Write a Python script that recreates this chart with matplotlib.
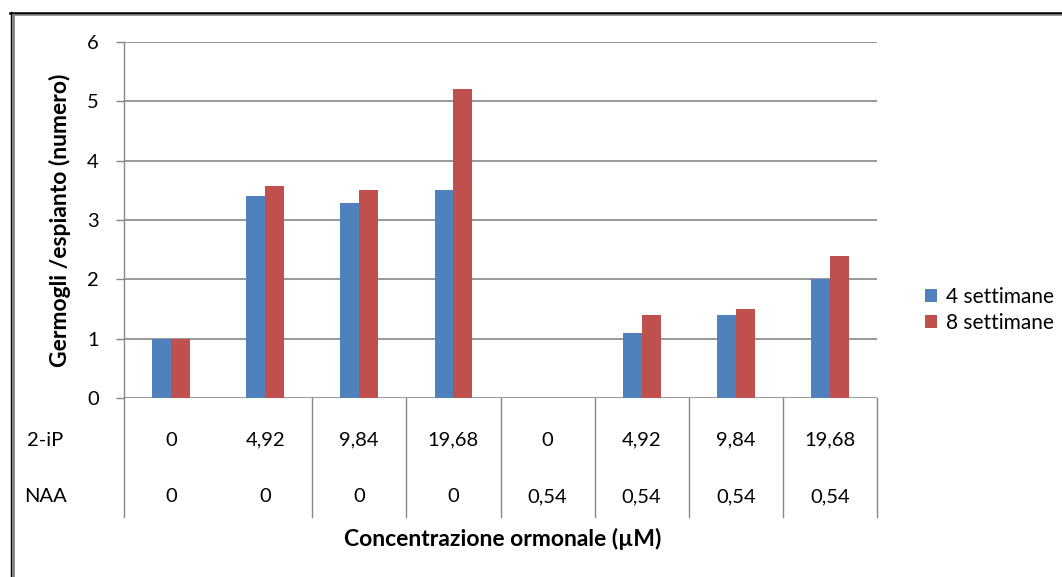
import matplotlib
matplotlib.use("Agg")
import matplotlib.pyplot as plt
import matplotlib.transforms as mtransforms
from matplotlib.lines import Line2D
import numpy as np

plt.rcParams['font.family'] = ['Lato', 'DejaVu Sans']

# data
conc_2ip = ['0', '4,92', '9,84', '19,68', '0', '4,92', '9,84', '19,68']
conc_naa = ['0', '0', '0', '0', '0,54', '0,54', '0,54', '0,54']
row_names = ['2-iP', 'NAA']
week4 = [1.0, 3.4, 3.28, 3.5, 0, 1.1, 1.4, 2.0]
week8 = [1.0, 3.58, 3.5, 5.2, 0, 1.4, 1.5, 2.4]
series_names = ['4 settimane', '8 settimane']

blue = '#4F81BD'
red = '#C0504D'
grid_col = '#868686'
fs = 14.5

W, H = 1062, 577
fig = plt.figure(figsize=(W / 100, H / 100), dpi=100)
ax = fig.add_axes([124 / W, 1 - 398 / H, (877 - 124) / W, (398 - 42) / H])

x = np.arange(len(week4))
bw = 0.2
ax.bar(x - bw / 2, week4, bw, color=blue, label=series_names[0])
ax.bar(x + bw / 2, week8, bw, color=red, label=series_names[1])

ax.set_xlim(-0.5, len(x) - 0.5)
ax.set_ylim(0, 6)
ax.set_yticks(range(7))
ax.yaxis.grid(True, color=grid_col, linewidth=1.2)
ax.set_axisbelow(True)
for s in ['top', 'right', 'bottom']:
    ax.spines[s].set_visible(False)
ax.spines['left'].set_color(grid_col)
ax.spines['left'].set_linewidth(1.0)
ax.set_xticks([])
ax.tick_params(axis='y', length=6, width=1.0, color=grid_col, labelsize=fs,
               labelcolor='#000000', pad=12)

ax.set_ylabel('Germogli /espianto (numero)', fontsize=16.5, fontweight='bold',
              labelpad=12)

# category table under the axis
trans = mtransforms.blended_transform_factory(ax.transData, ax.transAxes)
tbl_bottom = -0.334
row_y = [-0.118, -0.278]
for i in range(len(x)):
    ax.text(x[i], row_y[0], conc_2ip[i], transform=trans, ha='center',
            va='center', fontsize=fs)
    ax.text(x[i], row_y[1], conc_naa[i], transform=trans, ha='center',
            va='center', fontsize=fs)
# vertical separators (the one after the first column does not show in the original)
for b in np.arange(-0.5, len(x)):
    if b == 0.5:
        continue
    ax.add_line(Line2D([b, b], [0, tbl_bottom], transform=trans, color=grid_col,
                       linewidth=1.0, clip_on=False))
for j, name in enumerate(row_names):
    ax.text(45 / W, 1 - (440 + j * 57) / H, name, transform=fig.transFigure,
            ha='center', va='center', fontsize=fs)

fig.text(503 / W, 1 - 539 / H, 'Concentrazione ormonale (µM)', ha='center',
         va='center', fontsize=16.5, fontweight='bold')

fig.legend(handles=ax.patches[:1] + ax.patches[len(x):len(x) + 1],
           labels=series_names, loc='center left',
           bbox_to_anchor=(906 / W, 1 - 310 / H), frameon=False, fontsize=15,
           handlelength=0.6, handleheight=0.6, handletextpad=0.4,
           labelspacing=0.3)

# chart frame (top and left edges visible)
fig.add_artist(Line2D([10 / W, 1], [1 - 13 / H, 1 - 13 / H],
                      transform=fig.transFigure, color='black', linewidth=1.8))
fig.add_artist(Line2D([12.5 / W, 1], [1 - 15.2 / H, 1 - 15.2 / H],
                      transform=fig.transFigure, color='#808080', linewidth=1.2))
fig.add_artist(Line2D([10.5 / W, 10.5 / W], [0, 1 - 12 / H],
                      transform=fig.transFigure, color='black', linewidth=1.0))
fig.add_artist(Line2D([12.5 / W, 12.5 / W], [0, 1 - 14.5 / H],
                      transform=fig.transFigure, color='#808080', linewidth=2.0))

fig.savefig('out.png', dpi=100)
